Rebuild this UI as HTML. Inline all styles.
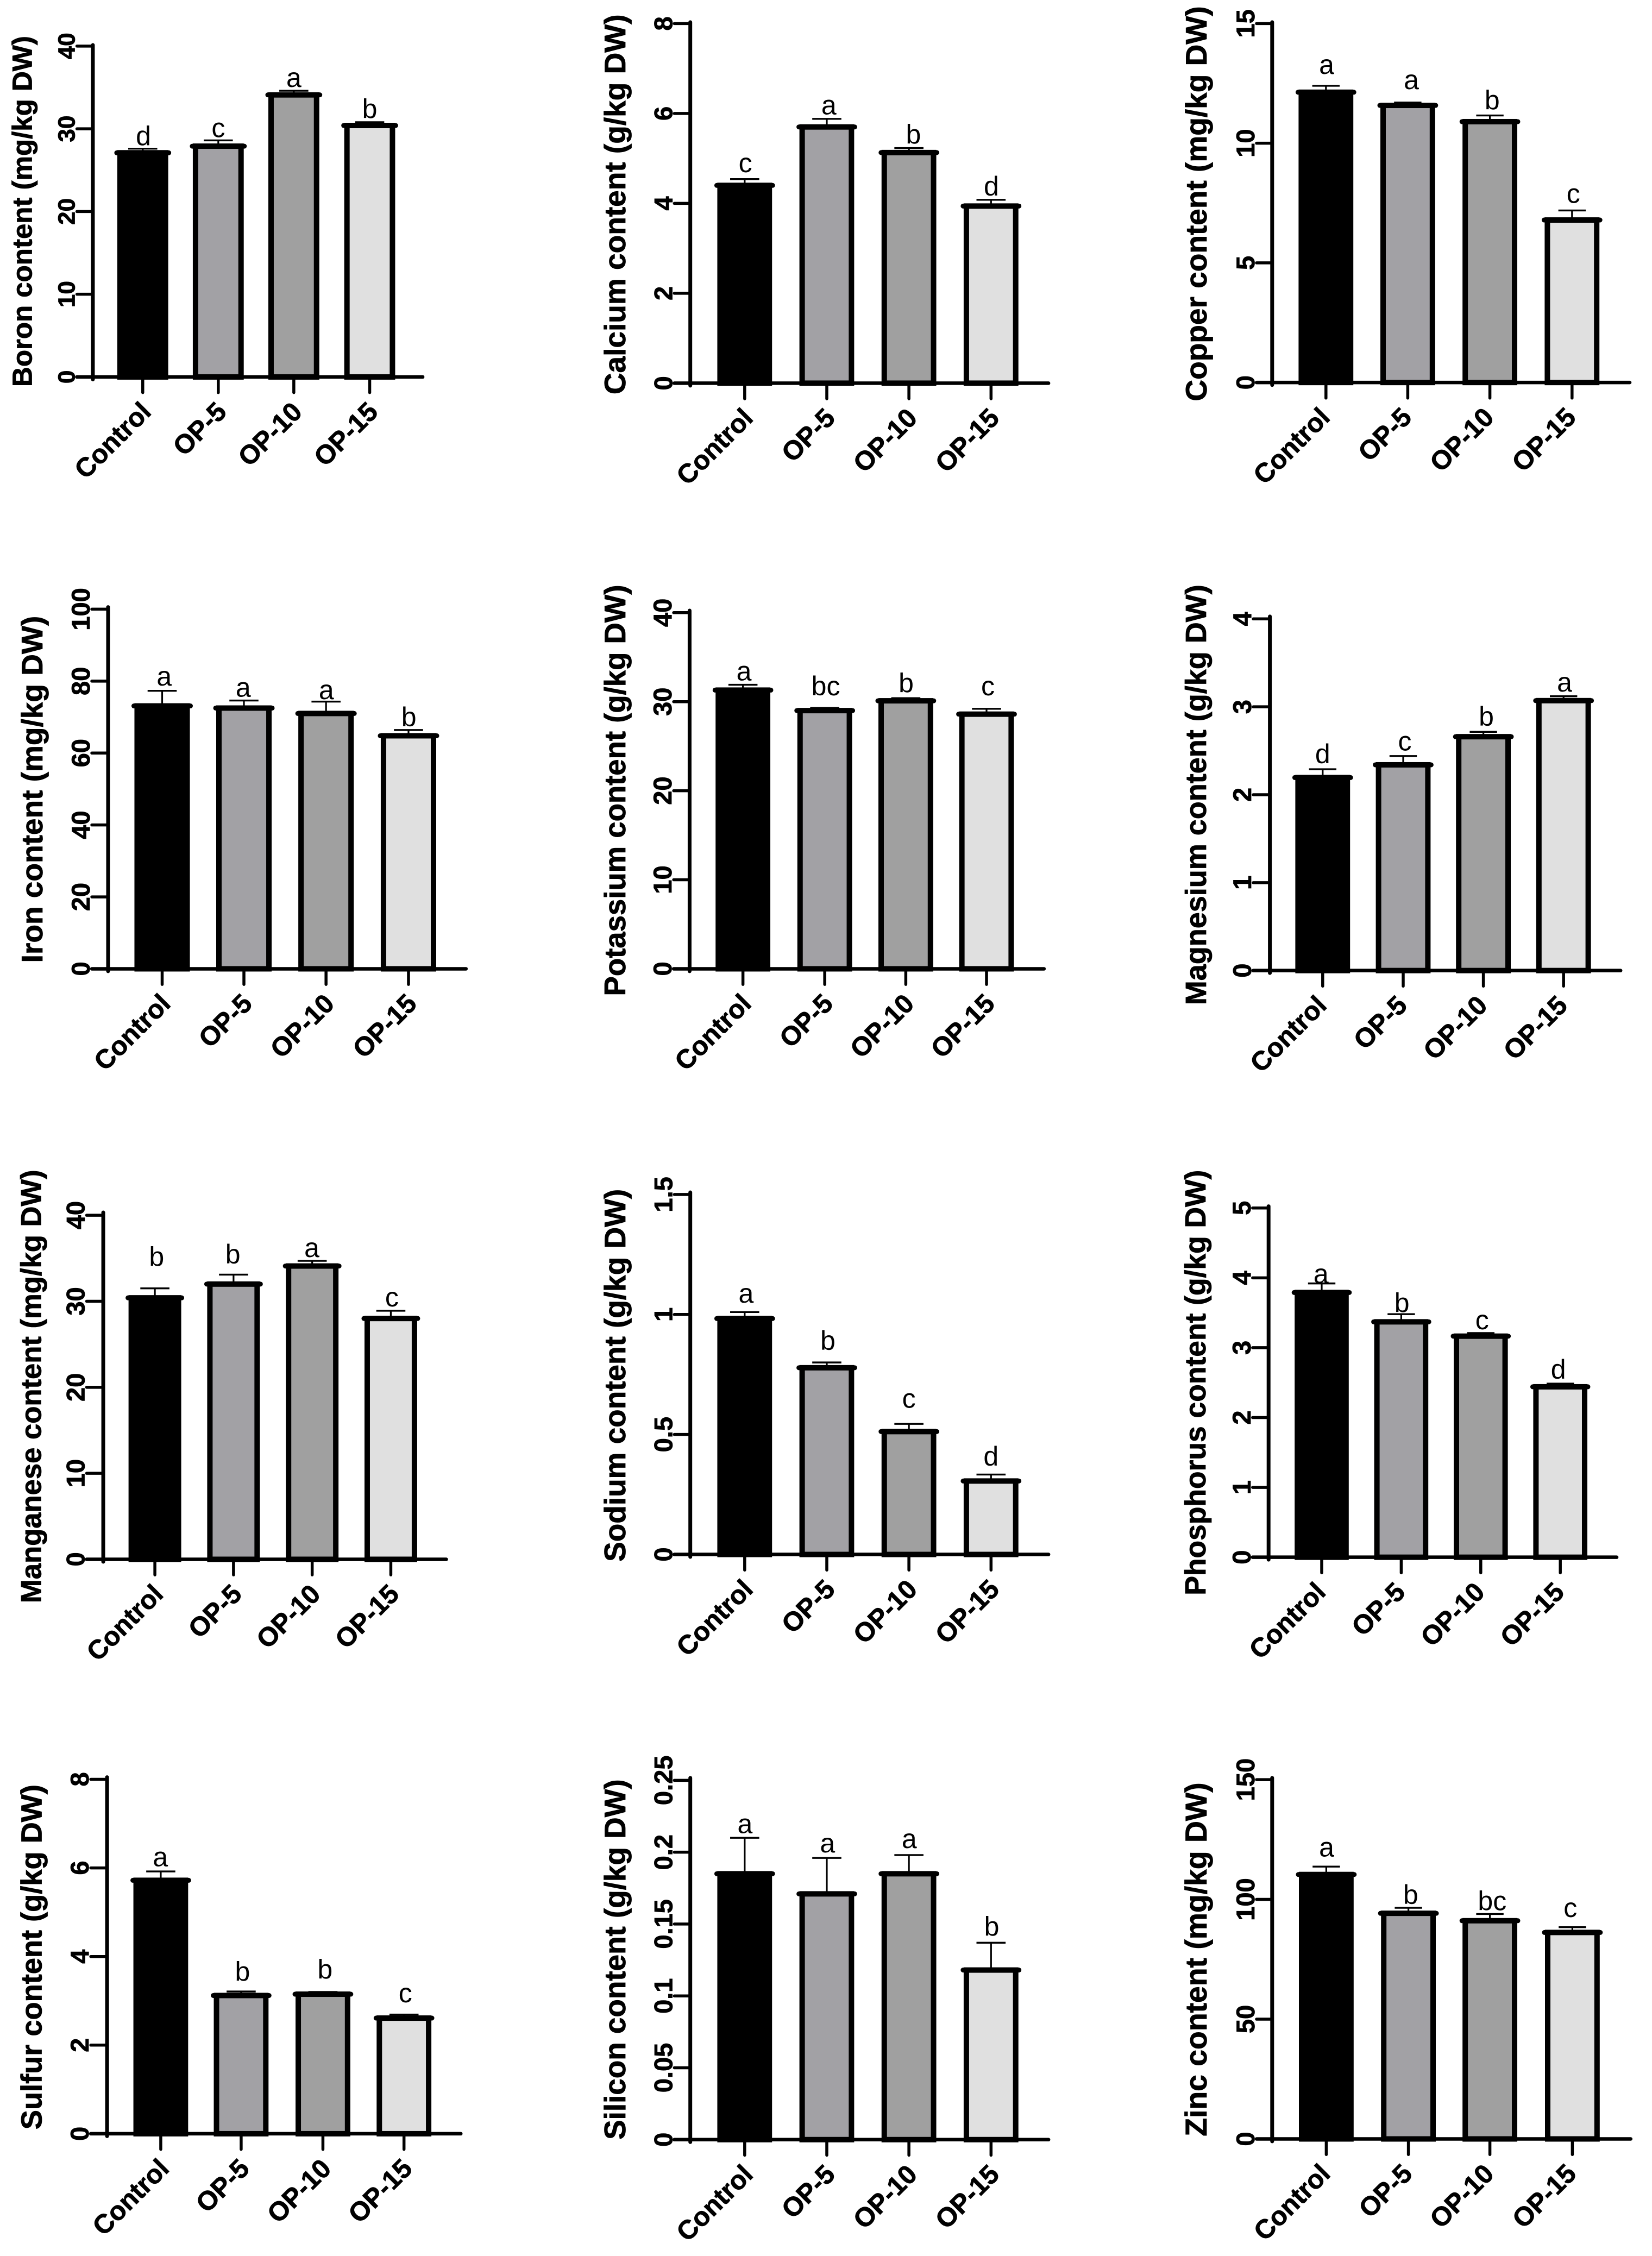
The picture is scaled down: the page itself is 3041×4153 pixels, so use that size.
<!DOCTYPE html>
<html lang="en">
<head>
<meta charset="utf-8">
<title>Mineral content bar charts</title>
<style>
html,body{margin:0;padding:0;background:#fff}
svg{display:block}
text{font-family:"Liberation Sans",Arial,sans-serif;fill:#000}
</style>
</head>
<body>
<svg id="figure" xmlns="http://www.w3.org/2000/svg" width="3041" height="4153" viewBox="0 0 3041 4153"></svg>
<script>
const categories = ["Control", "OP-5", "OP-10", "OP-15"];

const boronValues = [27.1, 27.9, 34.1, 30.4];
const boronErrors = [0.5, 0.7, 0.5, 0.4];
const boronLetters = ["d", "c", "a", "b"];
const boronTicks = ["0", "10", "20", "30", "40"];

const calciumValues = [4.4, 5.7, 5.13, 3.94];
const calciumErrors = [0.14, 0.18, 0.1, 0.14];
const calciumLetters = ["c", "a", "b", "d"];
const calciumTicks = ["0", "2", "4", "6", "8"];

const copperValues = [12.13, 11.58, 10.9, 6.79];
const copperErrors = [0.27, 0.12, 0.26, 0.4];
const copperLetters = ["a", "a", "b", "c"];
const copperTicks = ["0", "5", "10", "15"];

const ironValues = [73.1, 72.5, 71, 64.8];
const ironErrors = [4.2, 2.1, 3.3, 1.6];
const ironLetters = ["a", "a", "a", "b"];
const ironTicks = ["0", "20", "40", "60", "80", "100"];

const potassiumValues = [31.3, 29, 30.1, 28.6];
const potassiumErrors = [0.6, 0.3, 0.3, 0.6];
const potassiumLetters = ["a", "bc", "b", "c"];
const potassiumTicks = ["0", "10", "20", "30", "40"];

const magnesiumValues = [2.195, 2.34, 2.66, 3.07];
const magnesiumErrors = [0.095, 0.1, 0.055, 0.05];
const magnesiumLetters = ["d", "c", "b", "a"];
const magnesiumTicks = ["0", "1", "2", "3", "4"];

const manganeseValues = [30.4, 32, 34.1, 28];
const manganeseErrors = [1.1, 1.1, 0.6, 0.9];
const manganeseLetters = ["b", "b", "a", "c"];
const manganeseTicks = ["0", "10", "20", "30", "40"];

const sodiumValues = [0.983, 0.778, 0.512, 0.306];
const sodiumErrors = [0.027, 0.022, 0.032, 0.027];
const sodiumLetters = ["a", "b", "c", "d"];
const sodiumTicks = ["0", "0.5", "1", "1.5"];

const phosphorusValues = [3.79, 3.37, 3.165, 2.44];
const phosphorusErrors = [0.13, 0.11, 0.045, 0.045];
const phosphorusLetters = ["a", "b", "c", "d"];
const phosphorusTicks = ["0", "1", "2", "3", "4", "5"];

const sulfurValues = [5.72, 3.12, 3.15, 2.61];
const sulfurErrors = [0.2, 0.09, 0.05, 0.08];
const sulfurLetters = ["a", "b", "b", "c"];
const sulfurTicks = ["0", "2", "4", "6", "8"];

const siliconValues = [0.185, 0.171, 0.185, 0.118];
const siliconErrors = [0.025, 0.025, 0.013, 0.019];
const siliconLetters = ["a", "a", "a", "b"];
const siliconTicks = ["0", "0.05", "0.1", "0.15", "0.2", "0.25"];

const zincValues = [110.4, 94.2, 91.1, 86.2];
const zincErrors = [3.3, 2.3, 2.8, 2.2];
const zincLetters = ["a", "b", "bc", "c"];
const zincTicks = ["0", "50", "100", "150"];

const barFills = ["#000000", "#a2a1a5", "#a0a0a0", "#e0e0e0"];

/* Layout only: coordinates of each panel, separate from the data above. */
const KY = 0.6378;
const KX_WIDE = 0.6378;
const KX_NARROW = 0.6;
const panels = [
  {id:"boron", title:"Boron content (mg/kg DW)", v:boronValues, e:boronErrors, l:boronLetters, t:boronTicks, ox:0, oy:0, kx:KX_WIDE, ldxl:18, ax:268, top:130, t1:133, y0:1088, xEnd:1220, tl:222, cs:[412,630,848,1067], bw:147, tx:92, ty:610, ts:51, tks:44, gaps:[10,9,11,12], ldx:[2,0,0,0]},
  {id:"calcium", title:"Calcium content (g/kg DW)", v:calciumValues, e:calciumErrors, l:calciumLetters, t:calciumTicks, ox:1050, oy:0, kx:KX_WIDE, ldxl:18, ax:346, top:64, t1:68, y0:1106, xEnd:1380, tl:300, cs:[503,740,977,1214], bw:158, tx:158, ty:590, ts:55, tks:47, gaps:[20,13,13,12], ldx:[2,6,13,1]},
  {id:"copper", title:"Copper content (mg/kg DW)", v:copperValues, e:copperErrors, l:copperLetters, t:copperTicks, ox:2100, oy:0, kx:KX_NARROW, ldxl:10, ax:403, top:64, t1:68, y0:1104, xEnd:1500, tl:355, cs:[568,819,1071,1323], bw:168, tx:202, ty:588, ts:55, tks:47, gaps:[34,39,17,22], ldx:[2,11,7,4]},
  {id:"iron", title:"Iron content (mg/kg DW)", v:ironValues, e:ironErrors, l:ironLetters, t:ironTicks, ox:0, oy:1050, kx:KX_WIDE, ldxl:18, ax:312, top:106, t1:112, y0:1150, xEnd:1345, tl:265, cs:[468,704,941,1179], bw:160, tx:122, ty:632, ts:55, tks:47, gaps:[15,11,7,11], ldx:[6,-2,1,1]},
  {id:"potassium", title:"Potassium content (g/kg DW)", v:potassiumValues, e:potassiumErrors, l:potassiumLetters, t:potassiumTicks, ox:1050, oy:1050, kx:KX_WIDE, ldxl:18, ax:344, top:116, t1:122, y0:1150, xEnd:1367, tl:298, cs:[498,734,968,1201], bw:158, tx:158, ty:635, ts:54.5, tks:47, gaps:[13,36,17,39], ldx:[3,3,1,4]},
  {id:"magnesium", title:"Magnesium content (g/kg DW)", v:magnesiumValues, e:magnesiumErrors, l:magnesiumLetters, t:magnesiumTicks, ox:2100, oy:1050, kx:KX_NARROW, ldxl:10, ax:396, top:133, t1:140, y0:1155, xEnd:1472, tl:345, cs:[558,805,1051,1297], bw:168, tx:200, ty:648, ts:54, tks:47, gaps:[17,16,18,14], ldx:[0,5,9,3]},
  {id:"manganese", title:"Manganese content (mg/kg DW)", v:manganeseValues, e:manganeseErrors, l:manganeseLetters, t:manganeseTicks, ox:0, oy:2130, kx:KX_WIDE, ldxl:18, ax:298, top:160, t1:168, y0:1161, xEnd:1288, tl:250, cs:[447,674,901,1128], bw:152, tx:118, ty:662, ts:52.6, tks:47, gaps:[65,32,11,12], ldx:[5,-2,-1,3]},
  {id:"sodium", title:"Sodium content (g/kg DW)", v:sodiumValues, e:sodiumErrors, l:sodiumLetters, t:sodiumTicks, ox:1050, oy:2130, kx:KX_WIDE, ldxl:18, ax:346, top:102, t1:108, y0:1147, xEnd:1380, tl:300, cs:[503,740,977,1214], bw:158, tx:158, ty:630, ts:54.9, tks:47, gaps:[27,36,47,26], ldx:[4,3,0,0]},
  {id:"phosphorus", title:"Phosphorus content (g/kg DW)", v:phosphorusValues, e:phosphorusErrors, l:phosphorusLetters, t:phosphorusTicks, ox:2100, oy:2130, kx:KX_NARROW, ldxl:10, ax:392, top:142, t1:147, y0:1155, xEnd:1460, tl:343, cs:[555,799,1043,1287], bw:166, tx:198, ty:651, ts:53.4, tks:47, gaps:[1,6,11,14], ldx:[-2,2,4,-6]},
  {id:"sulfur", title:"Sulfur content (g/kg DW)", v:sulfurValues, e:sulfurErrors, l:sulfurLetters, t:sulfurTicks, ox:0, oy:3153, kx:KX_WIDE, ldxl:18, ax:309, top:186, t1:192, y0:1215, xEnd:1330, tl:262, cs:[464,696,932,1166], bw:158, tx:120, ty:705, ts:54.2, tks:47, gaps:[15,31,38,35], ldx:[-1,4,6,4]},
  {id:"silicon", title:"Silicon content (g/kg DW)", v:siliconValues, e:siliconErrors, l:siliconLetters, t:siliconTicks, ox:1050, oy:3153, kx:KX_WIDE, ldxl:18, ax:346, top:188, t1:195, y0:1232, xEnd:1380, tl:300, cs:[503,740,977,1214], bw:158, tx:158, ty:712, ts:54.8, tks:47, gaps:[14,16,20,20], ldx:[1,2,1,2]},
  {id:"zinc", title:"Zinc content (mg/kg DW)", v:zincValues, e:zincErrors, l:zincLetters, t:zincTicks, ox:2100, oy:3153, kx:KX_NARROW, ldxl:10, ax:403, top:188, t1:193, y0:1230, xEnd:1503, tl:355, cs:[569,821,1071,1324], bw:168, tx:202, ty:712, ts:55.3, tks:47, gaps:[29,11,11,29], ldx:[1,7,7,-6]}
];

const NS = "http://www.w3.org/2000/svg";
const figure = document.getElementById("figure");

function node(parent, tag, attrs) {
  const n = document.createElementNS(NS, tag);
  for (const key in attrs) n.setAttribute(key, attrs[key]);
  parent.appendChild(n);
  return n;
}

function stroke(parent, x1, y1, x2, y2, w, cap) {
  return node(parent, "line", {x1, y1, x2, y2, stroke: "#000", "stroke-width": w, "stroke-linecap": cap || "butt"});
}

function drawPanel(p) {
  const px = z => p.ox + z * p.kx;
  const py = z => p.oy + z * KY;
  const maxValue = parseFloat(p.t[p.t.length - 1]);
  const yScale = value => p.oy + (p.y0 - (p.y0 - p.t1) * value / maxValue) * KY;

  const g = node(figure, "g", {});
  
  

  p.v.forEach((value, i) => {
    const c = px(p.cs[i]);
    const half = p.bw * p.kx / 2;
    const yTop = yScale(value);
    const yBase = py(p.y0);
    const group = node(g, "g", {});
    
    

    const errTop = yScale(value + p.e[i]);
    const stem = stroke(group, c, yTop, c, errTop, 3.2);
    
    
    const errCap = stroke(group, c - 42 * p.kx, errTop, c + 42 * p.kx, errTop, 3.4);
    
    

    const rect = node(group, "rect", {x: c - half + 5, y: yTop, width: 2 * half - 10, height: yBase - yTop, fill: barFills[i], stroke: "#000", "stroke-width": 10});
    
    

    const topLine = stroke(group, c - half - 1, yTop, c + half + 1, yTop, 9, "round");
    
    

    const letter = node(group, "text", {x: c + p.ldx[i] * p.kx, y: errTop - p.gaps[i] * KY, "text-anchor": "middle", "font-size": 50});
    
    
    letter.textContent = p.l[i];
  });

  const yAxis = stroke(g, px(p.ax), py(p.top), px(p.ax), py(p.y0 + 7), 7, "round");
  
  
  const xAxis = stroke(g, px(p.tl), py(p.y0), px(p.xEnd), py(p.y0), 6.5, "round");
  
  

  p.t.forEach(label => {
    const y = yScale(parseFloat(label));
    if (parseFloat(label) !== 0) {
      const tick = stroke(g, px(p.tl), y, px(p.ax), y, 5.5, "round");
      
      
    }
    const bx = px(p.tl) - 4;
    const tickLabel = node(g, "text", {x: bx, y, transform: "rotate(-90 " + bx + " " + y + ")", "text-anchor": "middle", "font-size": p.tks, "font-weight": "bold", stroke: "#000", "stroke-width": 0.8});
    
    
    tickLabel.textContent = label;
  });

  categories.forEach((name, i) => {
    const c = px(p.cs[i]);
    const tick = stroke(g, c, py(p.y0), c, py(p.y0 + 45), 5.5, "round");
    
    
    const lx = c + p.ldxl;
    const ly = py(p.y0) + 67;
    const label = node(g, "text", {x: lx, y: ly, transform: "rotate(-45 " + lx + " " + ly + ")", "text-anchor": "end", "font-size": 49, "font-weight": "bold", stroke: "#000", "stroke-width": 0.8});
    
    
    label.textContent = name;
  });

  const tx = px(p.tx);
  const ty = py(p.ty);
  const title = node(g, "text", {x: tx, y: ty, transform: "rotate(-90 " + tx + " " + ty + ")", "text-anchor": "middle", "font-size": p.ts, "font-weight": "bold", stroke: "#000", "stroke-width": 0.8});
  
  
  title.textContent = p.title;
}

panels.forEach(drawPanel);
</script>
</body>
</html>
